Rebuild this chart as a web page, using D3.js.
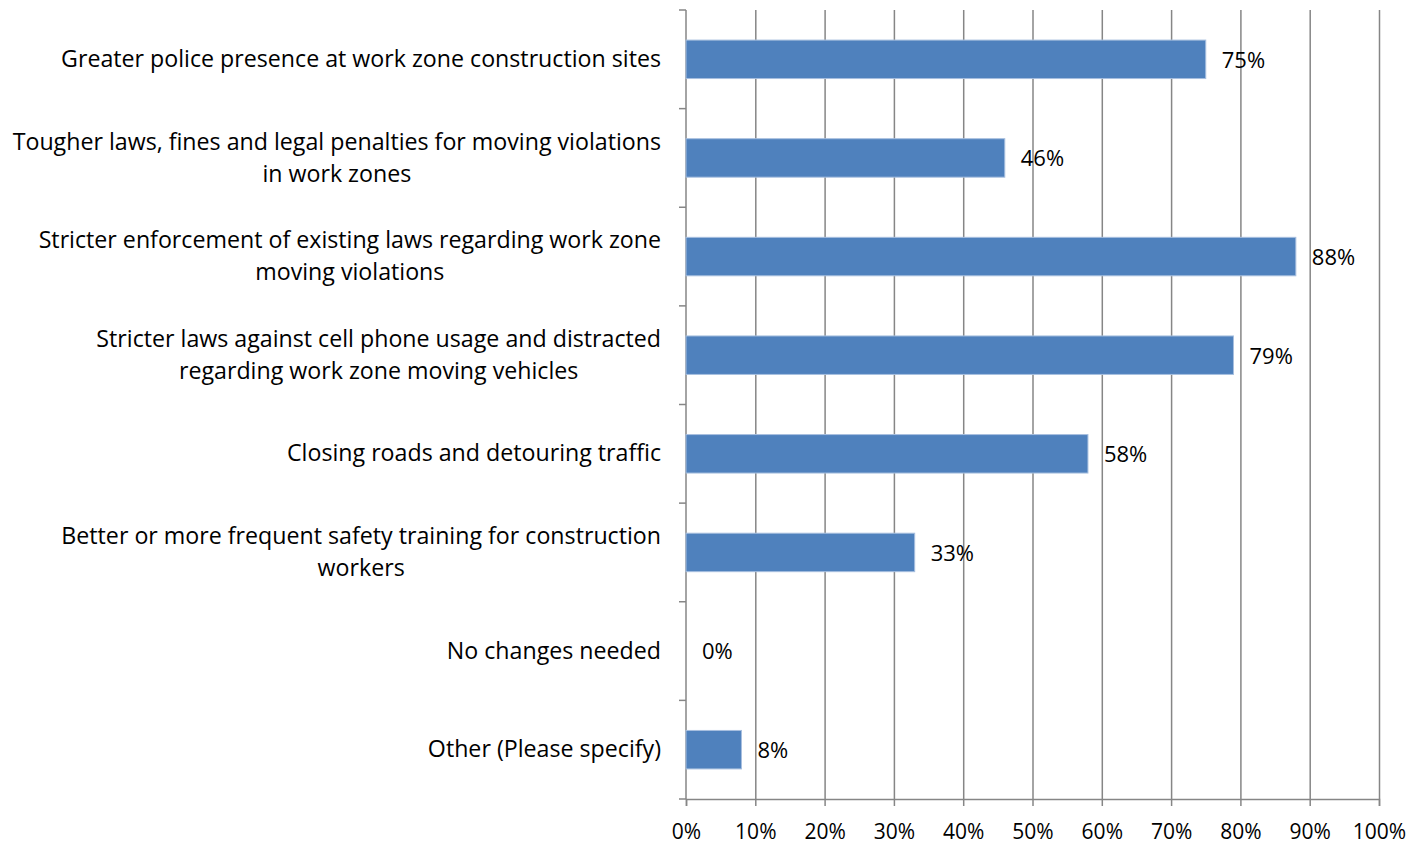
<!DOCTYPE html>
<html>
<head>
  <meta charset="utf-8">
  <style>
    body { margin: 0; background: #fff; }
    .bar { fill: #4f81bd; stroke: #a7bfdf; stroke-width: 1; }
    .grid line { stroke: #868686; stroke-width: 1.5; }
    .grid path { stroke-width: 0; }
    .axis path, .axis line { stroke: #868686; stroke-width: 1.5; }
    text { font-family: "Open Sans", Lato, sans-serif; fill: #000; }
  </style>
</head>
<body>
  <script src="https://d3js.org/d3.v7.min.js"></script>
  <script>
    var categories = [
      ["Greater police presence at work zone construction sites"],
      ["Tougher laws, fines and legal penalties for moving violations", "in work zones"],
      ["Stricter enforcement of existing laws regarding work zone", "moving violations"],
      ["Stricter laws against cell phone usage and distracted", "regarding work zone moving vehicles"],
      ["Closing roads and detouring traffic"],
      ["Better or more frequent safety training for construction", "workers"],
      ["No changes needed"],
      ["Other (Please specify)"]
    ];
    var values = [75, 46, 88, 79, 58, 33, 0, 8];
    var xTicks = [0, 10, 20, 30, 40, 50, 60, 70, 80, 90, 100];

    var margin = {top: 10, right: 47, bottom: 47, left: 686},
        width = 1426 - margin.left - margin.right,
        height = 846 - margin.top - margin.bottom;

    var svg = d3.select("body").append("svg")
        .attr("width", 1426)
        .attr("height", 846);

    var g = svg.append("g")
        .attr("transform", "translate(" + margin.left + "," + margin.top + ")");

    var idx = d3.range(categories.length);
    var x = d3.scaleLinear().domain([0, 100]).range([0, width]);
    var y = d3.scaleBand().domain(idx).range([0, height]).paddingInner(0.61).paddingOuter(0.305);
    var yOuter = d3.scaleBand().domain(idx).range([0, height]);

    // vertical gridlines
    g.append("g")
        .attr("class", "grid")
        .call(d3.axisBottom(x).tickValues(xTicks.slice(1)).tickSize(height).tickFormat(""));

    // x axis
    var xa = g.append("g")
        .attr("class", "axis")
        .attr("transform", "translate(0," + height + ")")
        .call(d3.axisBottom(x).tickValues(xTicks).tickSize(7).tickSizeOuter(7)
          .tickFormat(function(d) { return d + "%"; }));
    xa.selectAll("text").style("font-size", "21px").attr("dy", "1.45em");

    // y axis, ticks at band edges
    var ya = g.append("g").attr("class", "axis");
    ya.append("line").attr("x1", 0).attr("x2", 0).attr("y1", 0).attr("y2", height);
    ya.selectAll(".tk")
      .data(d3.range(categories.length + 1))
      .enter().append("line")
        .attr("x1", -7).attr("x2", 0)
        .attr("y1", function(i) { return i * yOuter.step(); })
        .attr("y2", function(i) { return i * yOuter.step(); });

    // bars
    g.selectAll(".bar")
      .data(values.map(function(v, i) { return {v: v, i: i}; }).filter(function(d) { return d.v > 0; }))
      .enter().append("rect")
        .attr("class", "bar")
        .attr("x", 0)
        .attr("y", function(d) { return y(d.i); })
        .attr("width", function(d) { return x(d.v); })
        .attr("height", y.bandwidth());

    // value labels
    g.selectAll(".val")
      .data(values)
      .enter().append("text")
        .attr("class", "val")
        .attr("x", function(d) { return x(d) + 16; })
        .attr("y", function(d, i) { return yOuter(i) + yOuter.bandwidth() / 2; })
        .attr("dy", "0.38em")
        .style("font-size", "22px")
        .text(function(d) { return d + "%"; });

    // category labels
    var lineH = 32;
    categories.forEach(function(lines, i) {
      var cy = yOuter(i) + yOuter.bandwidth() / 2;
      var t = g.append("text").style("font-size", "23.2px").attr("text-anchor", "middle");
      var spans = lines.map(function(l, j) {
        return t.append("tspan")
          .attr("y", cy + (j - (lines.length - 1) / 2) * lineH)
          .attr("dy", "0.33em")
          .text(l);
      });
      var w = d3.max(spans, function(s) { return s.node().getComputedTextLength(); });
      spans.forEach(function(s) { s.attr("x", -25 - w / 2); });
    });
  </script>
</body>
</html>
